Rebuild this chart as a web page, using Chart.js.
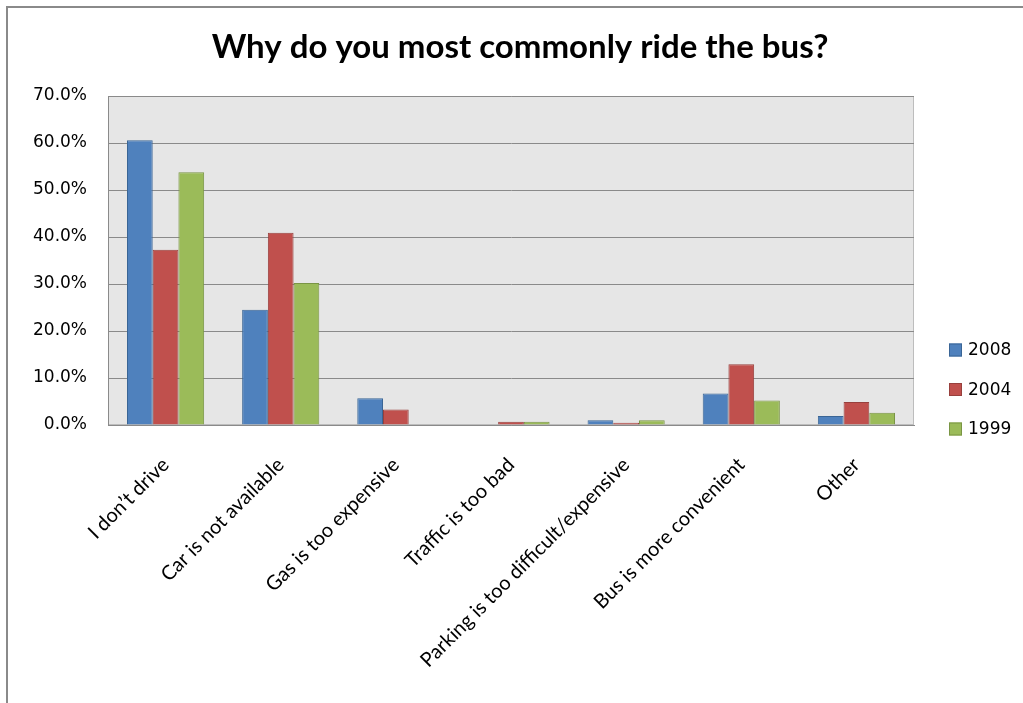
<!DOCTYPE html>
<html>
<head>
<meta charset="utf-8">
<script src="https://cdn.jsdelivr.net/npm/chart.js@4"></script>
<style>
    html, body { margin: 0; padding: 0; background: #fff; }
    canvas { display: block; }
</style>
</head>
<body>
<canvas id="busChart" width="1023" height="703"></canvas>
<script>
const categories = [
    'I don’t drive',
    'Car is not available',
    'Gas is too expensive',
    'Traffic is too bad',
    'Parking is too difficult/expensive',
    'Bus is more convenient',
    'Other'
];
const seriesNames = ['2008', '2004', '1999'];
const values2008 = [60.6, 24.5, 5.7, 0, 1.0, 6.7, 1.9];
const values2004 = [37.3, 40.9, 3.3, 0.7, 0.5, 12.9, 4.9];
const values1999 = [53.8, 30.2, 0, 0.7, 1.0, 5.2, 2.6];
const yTicks = [0, 10, 20, 30, 40, 50, 60, 70];

const fills = ['#4F81BD', '#C0504D', '#9BBB59'];
const edges = ['#3A6595', '#98403D', '#7A9545'];

// plot background, plot frame and the outer chart frame
const plotFrame = {
    id: 'plotFrame',
    beforeDraw(chart) {
        const { ctx, chartArea: a } = chart;
        ctx.save();
        ctx.fillStyle = '#fff';
        ctx.fillRect(0, 0, chart.width, chart.height);
        ctx.strokeStyle = '#8a8a8a';
        ctx.lineWidth = 2;
        ctx.beginPath();
        ctx.moveTo(7, chart.height);
        ctx.lineTo(7, 7);
        ctx.lineTo(chart.width, 7);
        ctx.stroke();
        ctx.fillStyle = '#e6e6e6';
        ctx.fillRect(a.left, a.top, a.right - a.left, a.bottom - a.top);
        ctx.strokeStyle = '#bdbdbd';
        ctx.lineWidth = 1;
        ctx.strokeRect(a.left + 0.5, a.top + 0.5, a.right - a.left - 1, a.bottom - a.top - 1);
        ctx.restore();
    }
};

// legend on the right, squares and year labels
const sideLegend = {
    id: 'sideLegend',
    afterDraw(chart) {
        const { ctx, chartArea: a } = chart;
        ctx.save();
        ctx.font = '17px "DejaVu Sans"';
        ctx.textBaseline = 'middle';
        ctx.textAlign = 'left';
        chart.data.datasets.forEach((ds, i) => {
            const cy = a.bottom - 75 + i * 39.5;
            const x = a.right + 35;
            ctx.fillStyle = ds.backgroundColor;
            ctx.fillRect(x, cy - 6.5, 13, 13);
            ctx.strokeStyle = ds.borderColor;
            ctx.lineWidth = 1;
            ctx.strokeRect(x + 0.5, cy - 6, 12, 12);
            ctx.fillStyle = '#000';
            ctx.fillText(ds.label, x + 19, cy + 1);
        });
        ctx.restore();
    }
};

const ctx = document.getElementById('busChart').getContext('2d');
const busChart = new Chart(ctx, {
    type: 'bar',
    data: {
        labels: categories,
        datasets: [values2008, values2004, values1999].map((vals, i) => ({
            label: seriesNames[i],
            data: vals,
            backgroundColor: fills[i],
            borderColor: edges[i],
            borderWidth: 1,
            categoryPercentage: 0.67,
            barPercentage: 1.0
        }))
    },
    options: {
        responsive: false,
        animation: false,
        layout: {
            padding: { left: 17, right: 0, top: 0, bottom: 0 }
        },
        plugins: {
            legend: { display: false },
            tooltip: { enabled: false },
            title: {
                display: true,
                text: 'Why do you most commonly ride the bus?',
                color: '#000',
                font: { family: 'Lato', size: 33, weight: 'bold', lineHeight: 1.2 },
                padding: { top: 27.5, bottom: 28.9 }
            }
        },
        scales: {
            x: {
                grid: { display: false },
                border: { display: true, color: '#8a8a8a', width: 1 },
                ticks: {
                    color: '#000',
                    font: { family: 'Lato', size: 20 },
                    minRotation: 45,
                    maxRotation: 45,
                    autoSkip: false,
                    padding: 20
                },
                afterFit(scale) { scale.height = 278; }
            },
            y: {
                min: 0,
                max: 70,
                afterBuildTicks(scale) {
                    scale.ticks = yTicks.map(v => ({ value: v }));
                },
                grid: { color: '#8a8a8a', lineWidth: 1, drawTicks: false },
                border: { display: true, color: '#8a8a8a', width: 1 },
                ticks: {
                    color: '#000',
                    font: { family: 'DejaVu Sans', size: 17 },
                    padding: 21,
                    callback: v => v.toFixed(1) + '%'
                },
                afterFit(scale) { scale.width = 91; }
            },
            yRight: {
                position: 'right',
                grid: { display: false },
                border: { display: false },
                ticks: { display: false },
                afterFit(scale) { scale.width = 109; }
            }
        }
    },
    plugins: [plotFrame, sideLegend]
});
</script>
</body>
</html>
